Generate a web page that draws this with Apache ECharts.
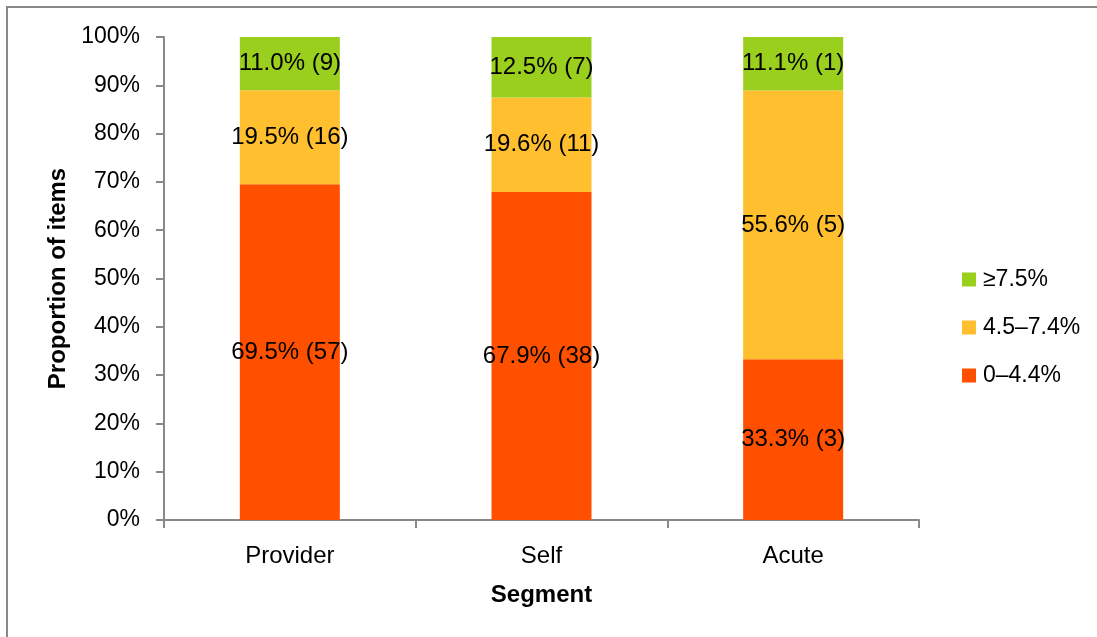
<!DOCTYPE html>
<html>
<head>
<meta charset="utf-8">
<script src="https://cdn.jsdelivr.net/npm/echarts@6/dist/echarts.min.js"></script>
<style>
html,body{margin:0;padding:0;background:#fff;}
#c{width:1097px;height:637px;}
</style>
</head>
<body>
<div id="c"></div>
<script>
const categories = ['Provider', 'Self', 'Acute'];
const seriesNames = ['0–4.4%', '4.5–7.4%', '≥7.5%'];
const pctLow = [69.5, 67.9, 33.3];
const pctMid = [19.5, 19.6, 55.6];
const pctHigh = [11.0, 12.5, 11.1];
const nLow = [57, 38, 3];
const nMid = [16, 11, 5];
const nHigh = [9, 7, 1];
const colors = ['#FF5000', '#FFBF2E', '#9BCF1E'];

const FONT = 'Liberation Sans';
const chart = echarts.init(document.getElementById('c'), null, {renderer: 'canvas'});

function mk(name, vals, counts, color) {
  return {
    name: name,
    type: 'bar',
    stack: 'total',
    barWidth: 100,
    data: vals,
    itemStyle: {color: color},
    label: {
      show: true,
      position: 'inside',
      color: '#000',
      fontFamily: FONT,
      fontSize: 24,
      formatter: p => p.value.toFixed(1) + '% (' + counts[p.dataIndex] + ')'
    },
    emphasis: {disabled: true}
  };
}

chart.setOption({
  animation: false,
  backgroundColor: '#fff',
  graphic: [{
    type: 'rect',
    shape: {x: 7, y: 7, width: 1200, height: 1200},
    style: {fill: 'none', stroke: '#888', lineWidth: 2}
  }],
  grid: {left: 164, right: 178, top: 37, bottom: 117},
  legend: {
    orient: 'vertical',
    left: 957,
    top: 263,
    itemWidth: 14,
    itemHeight: 14,
    itemGap: 25,
    data: ['≥7.5%', '4.5–7.4%', '0–4.4%'],
    textStyle: {fontFamily: FONT, fontSize: 23, color: '#000', padding: [0, 0, 0, 2]},
    icon: 'rect'
  },
  xAxis: {
    type: 'category',
    data: categories,
    name: 'Segment',
    nameLocation: 'middle',
    nameGap: 63,
    nameTextStyle: {fontFamily: FONT, fontSize: 24, fontWeight: 'bold', color: '#000'},
    axisLine: {lineStyle: {color: '#888', width: 2}},
    axisTick: {show: true, length: 8, lineStyle: {color: '#888', width: 2}},
    axisLabel: {fontFamily: FONT, fontSize: 24, color: '#000', margin: 24}
  },
  yAxis: {
    type: 'value',
    min: 0,
    max: 100,
    interval: 10,
    name: 'Proportion of items',
    nameLocation: 'middle',
    nameGap: 92,
    nameTextStyle: {fontFamily: FONT, fontSize: 24, fontWeight: 'bold', color: '#000'},
    splitLine: {show: false},
    axisLine: {show: true, lineStyle: {color: '#888', width: 2}},
    axisTick: {show: true, length: 8, lineStyle: {color: '#888', width: 2}},
    axisLabel: {fontFamily: FONT, fontSize: 23, color: '#000', margin: 24, formatter: v => v + '%'}
  },
  series: [
    mk(seriesNames[0], pctLow, nLow, colors[0]),
    mk(seriesNames[1], pctMid, nMid, colors[1]),
    mk(seriesNames[2], pctHigh, nHigh, colors[2])
  ]
});
</script>
</body>
</html>
